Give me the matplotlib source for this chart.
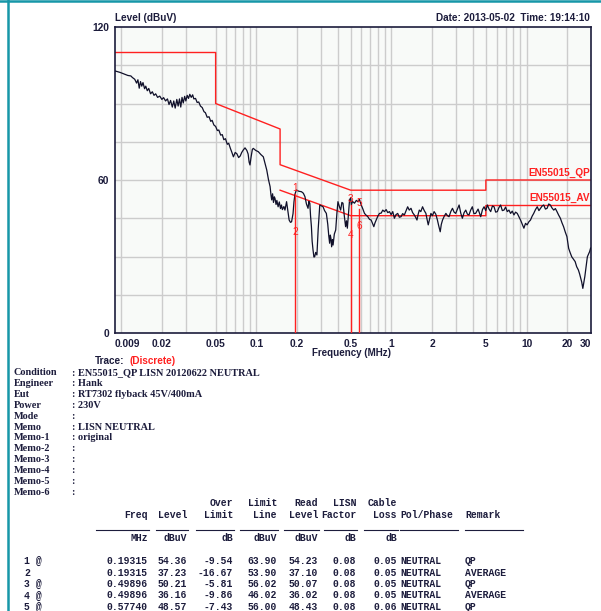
import matplotlib
matplotlib.use('Agg')
import matplotlib.pyplot as plt
from matplotlib.lines import Line2D

W, H = 601, 611

# trace (MHz, dBuV)
trace_f = [0.0091, 0.0098, 0.0105, 0.0112, 0.0118, 0.0121, 0.0126, 0.0130, 0.0133, 0.0136,
           0.0139, 0.0142, 0.0145, 0.0149, 0.0152, 0.0156, 0.0160, 0.0165, 0.0170, 0.0175,
           0.0180, 0.0186, 0.0193, 0.0200, 0.0206, 0.0213, 0.0220, 0.0226, 0.0232, 0.0239,
           0.0245, 0.0251, 0.0258, 0.0264, 0.0270, 0.0276, 0.0282, 0.0288, 0.0295, 0.0301,
           0.0308, 0.0315, 0.0322, 0.0330, 0.0338, 0.0345, 0.0355, 0.0365, 0.0375, 0.0386,
           0.0398, 0.0410, 0.0420, 0.0433, 0.0447, 0.0460, 0.0471, 0.0485, 0.0500, 0.0515,
           0.0528, 0.0545, 0.0560, 0.0575, 0.0591, 0.0610, 0.0625, 0.0643, 0.0660, 0.0677,
           0.0698, 0.0718, 0.0740, 0.0760, 0.0780, 0.0802, 0.0825, 0.0851, 0.0870, 0.0885,
           0.0898, 0.0915, 0.0935, 0.0950, 0.0990, 0.1035, 0.1080, 0.1127, 0.1160, 0.1195,
           0.1230, 0.1265, 0.1285, 0.1300, 0.1320, 0.1340, 0.1360, 0.1375, 0.1400, 0.1420,
           0.1450, 0.1480, 0.1510, 0.1535, 0.1560, 0.1600, 0.1630, 0.1675, 0.1710, 0.1750,
           0.1790, 0.1824, 0.1870, 0.1900, 0.1932, 0.1980, 0.2060, 0.2160, 0.2230, 0.2290,
           0.2350, 0.2415, 0.2450, 0.2490, 0.2520, 0.2558, 0.2590, 0.2630, 0.2670, 0.2705,
           0.2750, 0.2810, 0.2870, 0.2950, 0.3040, 0.3120, 0.3200, 0.3300, 0.3380, 0.3440,
           0.3490, 0.3530, 0.3570, 0.3610, 0.3660, 0.3700, 0.3780, 0.3870, 0.3950, 0.4020,
           0.4120, 0.4210, 0.4300, 0.4380, 0.4480, 0.4580, 0.4650, 0.4720, 0.4800, 0.4900,
           0.4990, 0.5050, 0.5150, 0.5330, 0.5500, 0.5650, 0.5800, 0.5980, 0.6150, 0.6320,
           0.6500, 0.6690, 0.6880, 0.7080, 0.7250, 0.7410, 0.7560, 0.7710, 0.7930, 0.8160,
           0.8400, 0.8630, 0.8880, 0.9140, 0.9400, 0.9670, 0.9950, 1.023, 1.052, 1.080,
           1.113, 1.145, 1.178, 1.210, 1.247, 1.280, 1.319, 1.355, 1.396, 1.435,
           1.477, 1.510, 1.546, 1.575, 1.608, 1.650, 1.700, 1.750, 1.800, 1.835,
           1.873, 1.915, 1.960, 2.010, 2.070, 2.130, 2.190, 2.240, 2.297, 2.340,
           2.390, 2.460, 2.530, 2.600, 2.670, 2.750, 2.830, 2.910, 2.990, 3.080,
           3.170, 3.260, 3.350, 3.450, 3.550, 3.650, 3.750, 3.860, 3.970, 4.080,
           4.200, 4.380, 4.580, 4.720, 4.850, 4.990, 5.130, 5.280, 5.430, 5.590,
           5.750, 5.910, 6.080, 6.250, 6.430, 6.620, 6.810, 7.000, 7.200, 7.410,
           7.620, 7.840, 8.070, 8.300, 8.540, 8.780, 9.030, 9.300, 9.560, 9.830,
           10.10, 10.40, 10.70, 11.00, 11.30, 11.65, 12.00, 12.35, 12.70, 13.05,
           13.40, 13.80, 14.20, 14.60, 15.00, 15.45, 15.90, 16.35, 16.80, 17.30,
           17.80, 18.30, 18.80, 19.35, 19.90, 20.50, 21.00, 21.60, 22.20, 22.90,
           23.50, 24.20, 24.70, 25.20, 25.60, 26.10, 26.50, 27.00, 27.60, 28.20,
           28.80, 29.30, 29.80]
trace_db = [102.7, 102.2, 101.6, 101.0, 100.8, 100.2, 99.5, 98.0, 99.3, 96.0,
            98.6, 96.8, 98.2, 95.8, 96.8, 95.0, 95.9, 93.8, 94.6, 93.2,
            93.8, 92.4, 92.9, 91.6, 92.3, 91.0, 91.8, 89.6, 91.2, 88.6,
            91.0, 88.2, 91.6, 89.0, 91.8, 88.6, 92.4, 90.2, 92.8, 91.0,
            93.2, 92.0, 93.6, 92.4, 93.4, 91.8, 92.0, 90.4, 90.6, 89.0,
            88.4, 86.8, 86.4, 84.6, 84.8, 83.0, 83.4, 81.6, 81.0, 79.4,
            79.6, 77.6, 77.8, 75.8, 76.2, 74.0, 74.4, 72.4, 70.8, 69.1,
            70.8, 70.3, 68.8, 69.4, 70.8, 71.8, 72.6, 71.6, 70.2, 67.0,
            65.9, 69.0, 72.0, 72.4, 71.6, 71.1, 70.0, 69.1, 66.6, 63.9,
            60.2, 57.4, 54.0, 52.2, 54.6, 51.2, 53.4, 52.8, 50.4, 52.0,
            49.5, 51.4, 48.8, 50.2, 48.4, 49.6, 48.2, 51.5, 48.0, 44.3,
            43.4, 43.6, 46.8, 51.4, 54.4, 56.1, 55.6, 55.4, 54.8, 53.5,
            50.6, 48.9, 51.6, 50.9, 46.0, 41.7, 36.0, 32.5, 29.8, 29.9,
            31.6, 30.6, 40.6, 50.2, 49.8, 49.5, 48.0, 46.9, 42.6, 38.0,
            35.2, 38.4, 37.0, 33.8, 36.6, 34.5, 38.8, 40.4, 47.0, 51.5,
            49.6, 48.2, 51.2, 50.9, 46.0, 41.7, 44.0, 41.1, 46.0, 52.2,
            53.0, 50.2, 51.6, 50.9, 52.0, 51.5, 52.4, 50.2, 48.6, 46.9,
            46.2, 45.6, 44.6, 44.3, 43.0, 41.7, 43.2, 44.3, 45.8, 46.9,
            47.0, 48.2, 47.6, 48.4, 47.2, 47.6, 46.4, 47.6, 45.0, 46.4,
            46.9, 45.4, 45.6, 46.8, 46.3, 47.8, 49.5, 48.2, 48.9, 47.2,
            46.3, 45.4, 44.3, 46.4, 48.2, 47.6, 49.5, 48.0, 46.9, 44.6,
            42.4, 44.6, 46.9, 46.0, 47.6, 46.6, 44.3, 42.0, 39.7, 42.6,
            44.3, 45.8, 46.9, 46.0, 45.6, 47.6, 48.9, 47.4, 46.9, 48.6,
            50.2, 47.0, 45.0, 47.2, 48.2, 46.6, 46.3, 48.2, 49.5, 46.8,
            46.9, 48.6, 45.6, 48.4, 49.5, 48.0, 50.2, 48.6, 47.6, 49.8,
            49.5, 47.4, 47.6, 49.2, 50.2, 48.0, 48.2, 49.4, 47.6, 48.2,
            46.9, 47.8, 46.3, 47.4, 46.9, 45.6, 44.3, 42.6, 41.1, 43.0,
            42.4, 43.6, 44.3, 45.8, 46.9, 48.4, 49.5, 48.0, 48.9, 49.8,
            50.2, 48.6, 48.9, 50.6, 50.2, 49.0, 48.2, 48.8, 47.6, 46.2,
            45.0, 43.2, 41.7, 39.6, 37.8, 33.2, 31.6, 29.9, 29.0, 28.0,
            26.0, 24.7, 23.2, 21.4, 20.0, 17.5, 19.6, 22.1, 26.0, 29.9,
            31.0, 31.9, 33.3]

qp_f = [0.009, 0.05, 0.05, 0.15, 0.15, 0.5, 5, 5, 30]
qp_db = [110, 110, 90, 80, 66, 56, 56, 60, 60]
av_f = [0.15, 0.5, 5, 5, 30]
av_db = [56, 46, 46, 50, 50]

mk_num = ['1', '2', '3', '4', '5', '6']
mk_f = [0.19315, 0.19315, 0.49896, 0.49896, 0.57740, 0.57740]
mk_db = [54.36, 37.23, 50.21, 36.16, 48.57, 39.5]

xtick_vals = [0.009, 0.02, 0.05, 0.1, 0.2, 0.5, 1, 2, 5, 10, 20, 30]
xtick_txt = ['0.009', '0.02', '0.05', '0.1', '0.2', '0.5', '1', '2', '5', '10', '20', '30']
xgrid = [0.01, 0.02, 0.03, 0.05, 0.06, 0.07, 0.08, 0.09,
         0.1, 0.2, 0.3, 0.4, 0.5, 0.6, 0.7, 0.8, 0.9,
         1, 2, 3, 4, 5, 6, 7, 8, 9, 10, 20]

info_keys = ['Condition', 'Engineer', 'Eut', 'Power', 'Mode', 'Memo', 'Memo-1',
             'Memo-2', 'Memo-3', 'Memo-4', 'Memo-5', 'Memo-6']
info_vals = ['EN55015_QP LISN 20120622 NEUTRAL', 'Hank', 'RT7302 flyback 45V/400mA',
             '230V', '', 'LISN NEUTRAL', 'original', '', '', '', '', '']

hdr1 = ['', '', 'Over', 'Limit', 'Read', 'LISN', 'Cable']
hdr2 = ['Freq', 'Level', 'Limit', 'Line', 'Level', 'Factor', 'Loss']
units = ['MHz', 'dBuV', 'dB', 'dBuV', 'dBuV', 'dB', 'dB']
row_no = ['1 @', '2', '3 @', '4 @', '5 @']
col_freq = ['0.19315', '0.19315', '0.49896', '0.49896', '0.57740']
col_level = ['54.36', '37.23', '50.21', '36.16', '48.57']
col_over = ['-9.54', '-16.67', '-5.81', '-9.86', '-7.43']
col_limit = ['63.90', '53.90', '56.02', '46.02', '56.00']
col_read = ['54.23', '37.10', '50.07', '36.02', '48.43']
col_lisn = ['0.08', '0.08', '0.08', '0.08', '0.08']
col_cable = ['0.05', '0.05', '0.05', '0.05', '0.06']
col_pol = ['NEUTRAL'] * 5
col_remark = ['QP', 'AVERAGE', 'QP', 'AVERAGE', 'QP']

NAVY = '#1c1c3c'
RED = '#ff2020'
TEAL = '#1797a8'


def fx(x):
    return x / W


def fy(y):
    return 1 - y / H


fig = plt.figure(figsize=(W / 100, H / 100), dpi=100)
fig.patch.set_facecolor('white')

ax = fig.add_axes([fx(115), fy(333), 476 / W, 306 / H])
ax.set_facecolor('#f8faf8')
ax.set_xscale('log')
ax.set_xlim(0.009, 30)
ax.set_ylim(0, 120)

for g in xgrid:
    ax.axvline(g, color='#cccccc', lw=1, zorder=0)
for g in range(15, 120, 15):
    ax.axhline(g, color='#cccccc', lw=1, zorder=0)

ax.set_xticks(xtick_vals)
ax.set_xticklabels(xtick_txt)
ax.xaxis.set_minor_locator(plt.NullLocator())
ax.set_yticks([0, 60, 120])
ax.tick_params(length=0, labelsize=7.4, colors=NAVY, pad=4)
for t in ax.get_xticklabels() + ax.get_yticklabels():
    t.set_fontweight('bold')
    t.set_family('Liberation Sans')
ax.get_xticklabels()[0].set_horizontalalignment('left')
ax.get_xticklabels()[-1].set_horizontalalignment('right')
for s in ax.spines.values():
    s.set_color(NAVY)
    s.set_linewidth(1.2)

ax.plot(qp_f, qp_db, color=RED, lw=1, zorder=2)
ax.plot(av_f, av_db, color=RED, lw=1, zorder=2)
ax.plot(trace_f, trace_db, color='#10102a', lw=0.9, zorder=3)

for f, d in zip(mk_f[::2], mk_db[::2]):
    ax.plot([f, f], [0, d], color=RED, lw=1, zorder=4)
for n, f, d in zip(mk_num, mk_f, mk_db):
    ax.text(f, d + 0.5, n, color=RED, fontsize=7.2, ha='center', va='bottom',
            family='Liberation Sans', zorder=5)

ax.text(29.5, 60.8, 'EN55015_QP', color=RED, fontsize=7.2, fontweight='bold',
        ha='right', va='bottom', family='Liberation Sans')
ax.text(29.5, 50.8, 'EN55015_AV', color=RED, fontsize=7.2, fontweight='bold',
        ha='right', va='bottom', family='Liberation Sans')

# headings around the plot
sans = dict(family='Liberation Sans', fontweight='bold', color=NAVY)
fig.text(fx(115), fy(18), 'Level (dBuV)', fontsize=7.2, ha='left', va='center', **sans)
fig.text(fx(590), fy(18), 'Date: 2013-05-02  Time: 19:14:10', fontsize=7.2,
         ha='right', va='center', **sans)
fig.text(fx(352), fy(353), 'Frequency (MHz)', fontsize=7.0, ha='center', va='center', **sans)
fig.text(fx(95), fy(361), 'Trace:', fontsize=7.2, ha='left', va='center', **sans)
fig.text(fx(130), fy(361), '(Discrete)', fontsize=7.2, ha='left', va='center',
         family='Liberation Sans', fontweight='bold', color=RED)

# frame lines of the page
fig.add_artist(Line2D([fx(8), fx(8)], [0, 1], color=TEAL, lw=1.8))
fig.add_artist(Line2D([0, 1], [fy(1.2), fy(1.2)], color=TEAL, lw=1.8))

# info block
serif = dict(family='Liberation Serif', fontweight='bold', color=NAVY, fontsize=7.4,
             va='center')
for i, (k, v) in enumerate(zip(info_keys, info_vals)):
    y = 372.5 + i * 10.9
    fig.text(fx(14), fy(y), k, ha='left', **serif)
    fig.text(fx(72), fy(y), ': ' + v, ha='left', **serif)

# result table
mono = dict(family='Liberation Mono', fontweight='bold', color=NAVY, fontsize=7.0,
            va='center')
right_x = [148, 187, 233, 277, 318, 356, 397]
for x, a, b, u in zip(right_x, hdr1, hdr2, units):
    fig.text(fx(x), fy(503), a, ha='right', **mono)
    fig.text(fx(x), fy(515), b, ha='right', **mono)
    fig.text(fx(x), fy(538), u, ha='right', **mono)
fig.text(fx(400), fy(515), 'Pol/Phase', ha='left', **mono)
fig.text(fx(465), fy(515), 'Remark', ha='left', **mono)
under = [(96, 149), (156, 188), (196, 234), (240, 278), (284, 319), (324, 357),
         (364, 398), (400, 458), (465, 523)]
for a, b in under:
    fig.add_artist(Line2D([fx(a), fx(b)], [fy(530), fy(530)], color=NAVY, lw=0.8))

cols = [col_freq, col_level, col_over, col_limit, col_read, col_lisn, col_cable]
for r in range(len(row_no)):
    y = 561 + r * 11.5
    fig.text(fx(24), fy(y), row_no[r], ha='left', **mono)
    for x, c in zip(right_x, cols):
        fig.text(fx(x), fy(y), c[r], ha='right', **mono)
    fig.text(fx(400), fy(y), col_pol[r], ha='left', **mono)
    fig.text(fx(465), fy(y), col_remark[r], ha='left', **mono)

fig.savefig('out.png', dpi=100)
